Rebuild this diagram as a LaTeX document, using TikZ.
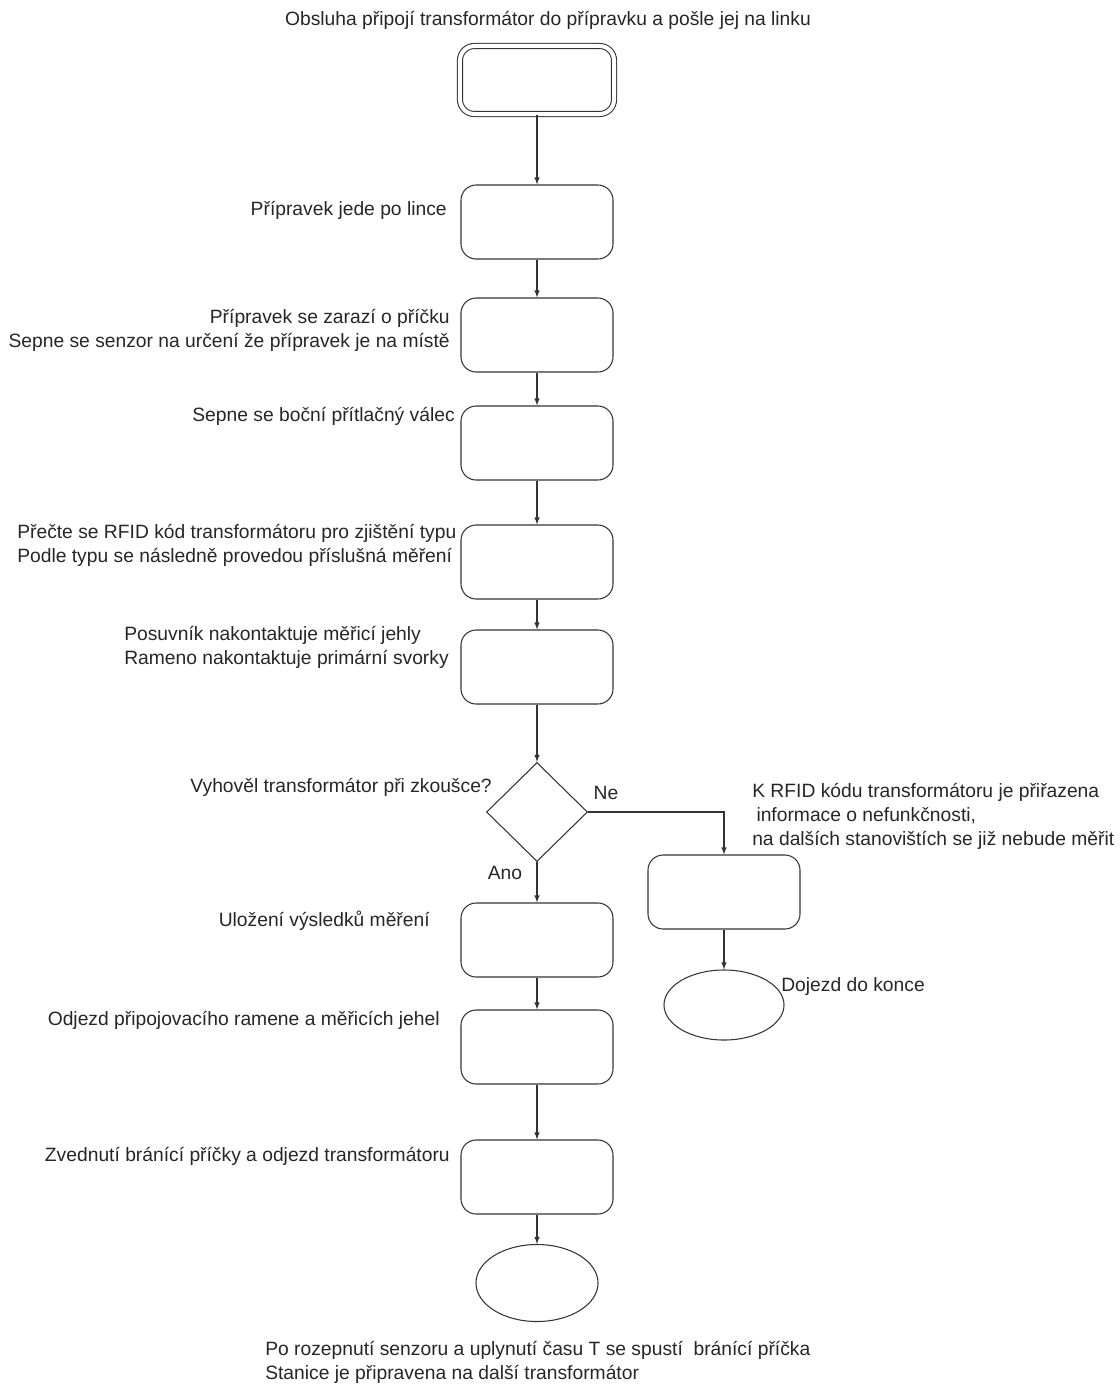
\documentclass[tikz,border=0pt]{standalone}
\usepackage{fontspec}
\setmainfont{Liberation Sans}
\usetikzlibrary{arrows}
\usetikzlibrary{shapes.geometric}

\begin{document}
\begin{tikzpicture}[x=0.025cm, y=-0.025cm,
  every node/.style={font={\fontsize{13.7}{17}\selectfont}, text=black!85},
  stepbox/.style={shape=rectangle, rounded corners=0.38cm, draw=black!80, line width=0.75pt, minimum width=3.8cm, minimum height=1.85cm, inner sep=0pt},
  startbox/.style={shape=rectangle, rounded corners=0.36cm, draw=black!80, line width=0.75pt, double, double distance=0.1cm, minimum width=3.85cm, minimum height=1.7cm, inner sep=0pt},
  decision/.style={shape=diamond, draw=black!80, line width=0.75pt, minimum width=2.525cm, minimum height=2.475cm, inner sep=0pt},
  terminal/.style={shape=ellipse, draw=black!80, line width=0.75pt, inner sep=0pt},
  note/.style={inner sep=0pt}]

\useasboundingbox (0,0) rectangle (1120,1384);

% main column
\node [startbox] (start) at (537,80) {};
\node [stepbox] (jede) at (537,222) {};
\node [stepbox] (zarazi) at (537,335) {};
\node [stepbox] (valec) at (537,443) {};
\node [stepbox] (rfid) at (537,562) {};
\node [stepbox] (jehly) at (537,667) {};
\node [decision] (zkouska) at (537,812) {};
\node [stepbox] (ulozeni) at (537,940) {};
\node [stepbox] (odjezd) at (537,1047) {};
\node [stepbox] (zvednuti) at (537,1177) {};
\node [terminal, minimum width=3.05cm, minimum height=1.925cm] (konec) at (537,1283) {};

% vetev Ne
\node [stepbox] (vadny) at (724,892) {};
\node [terminal, minimum width=3.0cm, minimum height=1.75cm] (dojezd) at (724,1005) {};

% popisky
\node [note] (tstart) at (548,20) {Obsluha připojí transformátor do přípravku a pošle jej na linku};
\node [note, anchor=east] (tjede) at (447,210) {Přípravek jede po lince};
\node [note, anchor=east, align=right] (tzarazi) at (450,330) {Přípravek se zarazí o příčku\hspace{10pt}\\Sepne se senzor na určení že přípravek je na místě};
\node [note, anchor=east] (tvalec) at (455,416) {Sepne se boční přítlačný válec};
\node [note, anchor=west, align=left] (trfid) at (17,545) {Přečte se RFID kód transformátoru pro zjištění typu\\Podle typu se následně provedou příslušná měření};
\node [note, anchor=west, align=left] (tjehly) at (124,647) {Posuvník nakontaktuje měřicí jehly\\Rameno nakontaktuje primární svorky};
\node [note, anchor=east] (tzkouska) at (492,787) {Vyhověl transformátor při zkoušce?};
\node [note] (tne) at (606,793) {Ne};
\node [note] (tano) at (505,873) {Ano};
\node [note, anchor=west, align=left] (tvadny) at (752,816) {K RFID kódu transformátoru je přiřazena\\\hspace{3pt}informace o nefunkčnosti,\\na dalších stanovištích se již nebude měřit};
\node [note, anchor=west] (tdojezd) at (781,987) {Dojezd do konce};
\node [note, anchor=east] (tulozeni) at (430,921) {Uložení výsledků měření};
\node [note, anchor=east] (todjezd) at (440,1020) {Odjezd připojovacího ramene a měřicích jehel};
\node [note, anchor=east] (tzvednuti) at (450,1156) {Zvednutí bránící příčky a odjezd transformátoru};
\node [note, anchor=west, align=left] (tkonec) at (265,1362) {Po rozepnutí senzoru a uplynutí času T se spustí\ \ bránící příčka\\Stanice je připravena na další transformátor};

\draw [-latex, line width=0.75pt, black!80] (start) edge (jede);
\draw [-latex, line width=0.75pt, black!80] (jede) edge (zarazi);
\draw [-latex, line width=0.75pt, black!80] (zarazi) edge (valec);
\draw [-latex, line width=0.75pt, black!80] (valec) edge (rfid);
\draw [-latex, line width=0.75pt, black!80] (rfid) edge (jehly);
\draw [-latex, line width=0.75pt, black!80] (jehly) edge (zkouska);
\draw [-latex, line width=0.75pt, black!80] (zkouska) edge (ulozeni);
\draw [-latex, line width=0.75pt, black!80] (ulozeni) edge (odjezd);
\draw [-latex, line width=0.75pt, black!80] (odjezd) edge (zvednuti);
\draw [-latex, line width=0.75pt, black!80] (zvednuti) edge (konec);
\draw [-latex, line width=0.75pt, black!80] (zkouska.east) -| (vadny.north);
\draw [-latex, line width=0.75pt, black!80] (vadny) edge (dojezd);
\end{tikzpicture}
\end{document}
